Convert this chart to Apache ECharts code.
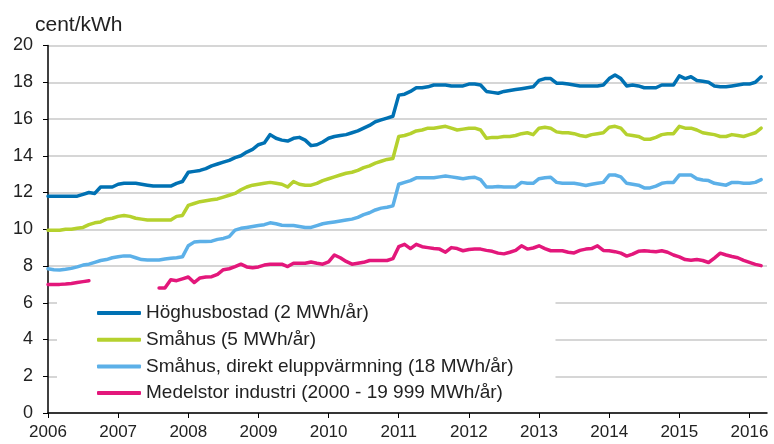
<!DOCTYPE html>
<html>
<head>
<meta charset="utf-8">
<script src="https://cdn.jsdelivr.net/npm/echarts@6/dist/echarts.min.js"></script>
<style>
    html, body {margin: 0; padding: 0; background: #fff;}
    #chart {width: 774px; height: 444px;}
</style>
</head>
<body>
<div id="chart"></div>
<script type="text/javascript">
    // månader jan 2006 - apr 2016
    var months = [];
    for (var y = 2006; y <= 2016; y++) {
        for (var m = 1; m <= 12; m++) {
            months.push(y + '-' + (m < 10 ? '0' + m : m));
        }
    }
    months = months.slice(0, 124);

    var hoghus = [11.8,11.8,11.8,11.8,11.8,11.8,11.9,12.0,11.95,12.3,12.3,12.3,
        12.45,12.5,12.5,12.5,12.45,12.4,12.35,12.35,12.35,12.35,12.5,12.6,
        13.1,13.15,13.2,13.3,13.45,13.55,13.65,13.75,13.9,14.0,14.2,14.35,
        14.6,14.7,15.15,14.95,14.85,14.8,14.95,15.0,14.85,14.55,14.6,14.75,
        14.95,15.05,15.1,15.15,15.25,15.35,15.5,15.65,15.85,15.95,16.05,16.15,
        17.3,17.35,17.5,17.7,17.7,17.75,17.85,17.85,17.85,17.8,17.8,17.8,
        17.9,17.9,17.85,17.5,17.45,17.4,17.5,17.55,17.6,17.65,17.7,17.75,
        18.1,18.2,18.2,17.95,17.95,17.9,17.85,17.8,17.8,17.8,17.8,17.85,
        18.2,18.4,18.2,17.8,17.85,17.8,17.7,17.7,17.7,17.85,17.85,17.85,
        18.35,18.2,18.3,18.1,18.05,18.0,17.8,17.75,17.75,17.8,17.85,17.9,
        17.9,18.0,18.3];
    var smahus = [9.95,9.95,9.95,10.0,10.0,10.05,10.1,10.25,10.35,10.4,10.55,10.6,
        10.7,10.75,10.7,10.6,10.55,10.5,10.5,10.5,10.5,10.5,10.7,10.75,
        11.3,11.4,11.5,11.55,11.6,11.65,11.75,11.85,11.95,12.15,12.3,12.4,
        12.45,12.5,12.55,12.5,12.45,12.3,12.6,12.45,12.4,12.4,12.5,12.65,
        12.75,12.85,12.95,13.05,13.1,13.2,13.35,13.45,13.6,13.7,13.8,13.85,
        15.05,15.1,15.2,15.35,15.4,15.5,15.5,15.55,15.6,15.5,15.4,15.45,
        15.5,15.5,15.4,14.95,15.0,15.0,15.05,15.05,15.1,15.2,15.25,15.15,
        15.5,15.55,15.5,15.3,15.25,15.25,15.2,15.1,15.05,15.15,15.2,15.25,
        15.55,15.6,15.5,15.15,15.1,15.05,14.9,14.9,15.0,15.15,15.2,15.2,
        15.6,15.5,15.5,15.4,15.25,15.2,15.15,15.05,15.05,15.15,15.1,15.05,
        15.15,15.25,15.5];
    var direktel = [7.85,7.8,7.78,7.82,7.87,7.95,8.05,8.1,8.2,8.3,8.35,8.45,
        8.5,8.55,8.55,8.45,8.35,8.33,8.33,8.33,8.38,8.42,8.45,8.5,
        9.1,9.3,9.33,9.33,9.35,9.45,9.5,9.6,9.95,10.05,10.1,10.15,
        10.2,10.25,10.35,10.3,10.22,10.2,10.2,10.15,10.1,10.1,10.2,10.3,
        10.35,10.4,10.45,10.5,10.55,10.65,10.8,10.9,11.05,11.15,11.2,11.27,
        12.45,12.55,12.65,12.8,12.8,12.8,12.8,12.85,12.9,12.85,12.8,12.75,
        12.8,12.83,12.7,12.3,12.3,12.32,12.3,12.3,12.3,12.55,12.5,12.5,
        12.75,12.8,12.83,12.55,12.5,12.5,12.5,12.45,12.38,12.45,12.5,12.55,
        12.95,12.95,12.85,12.5,12.45,12.4,12.25,12.25,12.35,12.5,12.55,12.55,
        12.95,12.95,12.95,12.75,12.68,12.65,12.5,12.45,12.4,12.55,12.55,12.5,
        12.5,12.55,12.7];
    var industri = [7.0,7.0,7.0,7.02,7.05,7.1,7.15,7.2,null,null,null,null,
        null,null,null,null,null,null,null,6.8,6.8,7.25,7.2,7.3,
        7.4,7.1,7.35,7.4,7.42,7.55,7.8,7.85,7.97,8.1,7.95,7.9,
        7.95,8.05,8.1,8.1,8.1,7.97,8.15,8.15,8.15,8.22,8.15,8.1,
        8.22,8.6,8.45,8.25,8.1,8.15,8.2,8.3,8.3,8.3,8.3,8.4,
        9.05,9.18,8.95,9.18,9.05,9.0,8.95,8.92,8.75,9.0,8.95,8.83,
        8.9,8.92,8.92,8.85,8.8,8.7,8.66,8.75,8.85,9.1,8.92,8.98,
        9.1,8.95,8.83,8.83,8.83,8.75,8.71,8.85,8.92,8.95,9.1,8.85,
        8.83,8.78,8.7,8.54,8.65,8.8,8.83,8.8,8.78,8.83,8.75,8.6,
        8.5,8.35,8.31,8.35,8.3,8.19,8.43,8.7,8.6,8.52,8.45,8.31,
        8.2,8.09,8.02];

    var names = ['Höghusbostad (2 MWh/år)', 'Småhus (5 MWh/år)',
        'Småhus, direkt eluppvärmning (18 MWh/år)', 'Medelstor industri (2000 - 19 999 MWh/år)'];
    var colors = ['#0071b3', '#b5d12e', '#5cb0e8', '#e3177b'];
    var values = [hoghus, smahus, direktel, industri];

    var isJan = function (idx, val) { return val.slice(5) === '01'; };

    var myChart = echarts.init(document.getElementById('chart'));
    var option = {
        animation: false,
        textStyle: {fontFamily: 'Liberation Sans, Arial, sans-serif'},
        title: {
            text: 'cent/kWh',
            left: 30, top: 10,
            textStyle: {fontSize: 21, fontWeight: 'normal', color: '#222'}
        },
        legend: {
            orient: 'vertical',
            left: 57, top: 300,
            padding: [3, 42, 5, 40],
            backgroundColor: '#fff',
            itemWidth: 44, itemHeight: 4,
            itemGap: 6.7,
            icon: 'roundRect',
            textStyle: {fontSize: 19, color: '#222', lineHeight: 20},
            data: names
        },
        grid: {left: 48, right: 7, top: 45.5, bottom: 31},
        xAxis: {
            type: 'category',
            boundaryGap: false,
            data: months,
            axisLine: {lineStyle: {color: '#000', width: 1.5}},
            axisTick: {show: true, length: 5, interval: isJan, lineStyle: {color: '#000'}},
            axisLabel: {
                interval: isJan, margin: 11, fontSize: 17, color: '#222',
                formatter: function (v) { return v.slice(0, 4); }
            },
            splitLine: {show: false}
        },
        yAxis: {
            type: 'value',
            min: 0, max: 20, interval: 2,
            axisLine: {show: true, lineStyle: {color: '#000', width: 1.5}},
            axisTick: {show: true, length: 5, lineStyle: {color: '#000'}},
            axisLabel: {fontSize: 18, color: '#222', margin: 15},
            splitLine: {lineStyle: {color: '#c9c9c9', width: 1.5}}
        },
        series: names.map(function (n, k) {
            return {
                name: n,
                type: 'line',
                data: values[k],
                showSymbol: false,
                symbol: 'none',
                connectNulls: false,
                color: colors[k],
                lineStyle: {width: 3.5, cap: 'round', join: 'round'}
            };
        })
    };
    myChart.setOption(option);
</script>
</body>
</html>
